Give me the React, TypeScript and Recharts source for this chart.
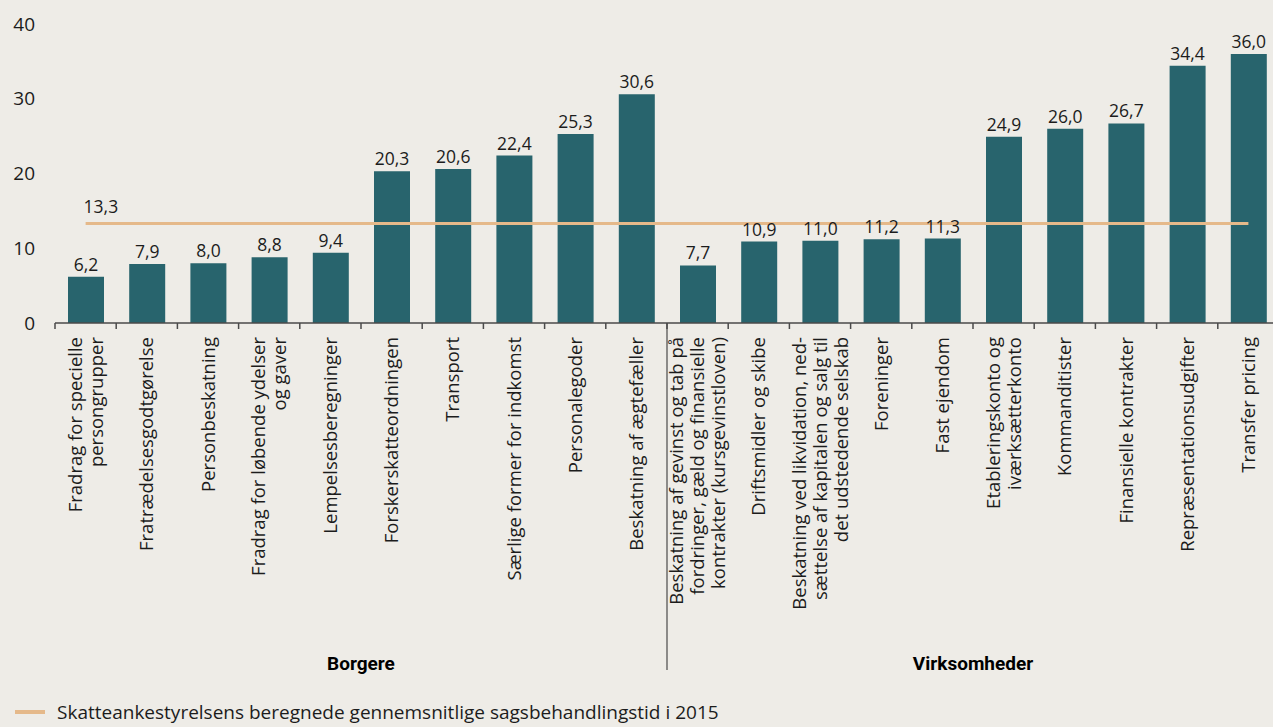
import React from 'react'
import { BarChart, Bar, XAxis, YAxis, ReferenceLine, LabelList } from 'recharts'

const categories = [
  'Fradrag for specielle|persongrupper',
  'Fratrædelsesgodtgørelse',
  'Personbeskatning',
  'Fradrag for løbende ydelser|og gaver',
  'Lempelsesberegninger',
  'Forskerskatteordningen',
  'Transport',
  'Særlige former for indkomst',
  'Personalegoder',
  'Beskatning af ægtefæller',
  'Beskatning af gevinst og tab på|fordringer, gæld og finansielle|kontrakter (kursgevinstloven)',
  'Driftsmidler og skibe',
  'Beskatning ved likvidation, ned-|sættelse af kapitalen og salg til|det udstedende selskab',
  'Foreninger',
  'Fast ejendom',
  'Etableringskonto og|iværksætterkonto',
  'Kommanditister',
  'Finansielle kontrakter',
  'Repræsentationsudgifter',
  'Transfer pricing',
]

const values = [6.2, 7.9, 8.0, 8.8, 9.4, 20.3, 20.6, 22.4, 25.3, 30.6, 7.7, 10.9, 11.0, 11.2, 11.3, 24.9, 26.0, 26.7, 34.4, 36.0]

const average = 13.3
const averageLabel = 'Skatteankestyrelsens beregnede gennemsnitlige sagsbehandlingstid i 2015'

const groups = [
  { name: 'Borgere', from: 0, to: 9 },
  { name: 'Virksomheder', from: 10, to: 19 },
]

const yTicks = [0, 10, 20, 30, 40]

const BG = '#eeece7'
const BAR = '#28646d'
const AVG = '#e5b98a'
const TEXT = '#1c1c1c'
const AXIS = '#4a4a4a'
const FONT = '"Open Sans", "Noto Sans", sans-serif'

const data = categories.map((name, i) => ({ name, value: values[i] }))

const fmt = (v: number) => v.toFixed(1).replace('.', ',')

function CategoryTick(props: any) {
  const { x, y, payload, index } = props
  const half = payload?.offset ?? 30.6
  const lines = String(payload.value).split('|')
  const lh = 21
  const fs = 18.5
  const left = x - half
  const groupLabel = groups.find(g => Math.round((g.from + g.to + 1) / 2) === index)
  const isSeparator = groups.some((g, gi) => gi > 0 && g.from === index)
  return (
    <g>
      <line x1={left} x2={left} y1={y} y2={y + 6} stroke={AXIS} strokeWidth={1.5} />
      {isSeparator && <line x1={left} x2={left} y1={y} y2={y + 347} stroke={AXIS} strokeWidth={1.2} />}
      <g transform={`translate(${x},${y + 14}) rotate(-90)`}>
        {lines.map((ln, i) => (
          <text
            key={i}
            x={0}
            y={(i - (lines.length - 1) / 2) * lh + fs * 0.36}
            textAnchor="end"
            fontSize={fs}
            fontFamily={FONT}
            fill={TEXT}
          >
            {ln}
          </text>
        ))}
      </g>
      {groupLabel && (
        <text x={left} y={y + 347} textAnchor="middle" fontSize={19} fontWeight="bold" fontFamily="Roboto, sans-serif" fill="#000">
          {groupLabel.name}
        </text>
      )}
    </g>
  )
}

function AvgLabel(props: any) {
  const vb = props.viewBox || {}
  return (
    <text x={vb.x - 2} y={vb.y - 11} fontSize={17.5} fontFamily={FONT} fill={TEXT}>
      {fmt(average)}
    </text>
  )
}

export default function App() {
  return (
    <div style={{ position: 'absolute', left: 0, top: 0, width: 1273, height: 727, background: BG, overflow: 'hidden' }}>
      <BarChart
        width={1290}
        height={727}
        data={data}
        margin={{ top: 24, right: 11, left: 0, bottom: 0 }}
        barSize={36}
      >
        <YAxis
          type="number"
          domain={[0, 40]}
          ticks={yTicks}
          width={55}
          axisLine={false}
          tickLine={false}
          tickSize={0}
          tickMargin={20}
          tick={{ fontSize: 19, fill: TEXT, fontFamily: FONT }}
        />
        <XAxis
          dataKey="name"
          type="category"
          interval={0}
          height={404}
          axisLine={{ stroke: AXIS, strokeWidth: 1.5 }}
          tickLine={false}
          tickSize={0}
          tickMargin={0}
          tick={<CategoryTick />}
        />
        <Bar dataKey="value" fill={BAR} isAnimationActive={false}>
          <LabelList
            dataKey="value"
            position="top"
            offset={6}
            formatter={(v: any) => fmt(Number(v))}
            style={{ fontSize: 17.5, fill: TEXT, fontFamily: FONT }}
          />
        </Bar>
        <ReferenceLine
          segment={[
            { x: categories[0], y: average },
            { x: categories[categories.length - 1], y: average },
          ]}
          stroke={AVG}
          strokeWidth={3}
          label={<AvgLabel />}
        />
      </BarChart>
      <div
        style={{
          position: 'absolute',
          left: 15,
          top: 700,
          display: 'flex',
          alignItems: 'center',
          fontFamily: FONT,
          fontSize: 19,
          lineHeight: '24px',
          color: TEXT,
          whiteSpace: 'nowrap',
        }}
      >
        <span style={{ display: 'inline-block', width: 30, height: 4, background: AVG, marginRight: 12 }} />
        <span>{averageLabel}</span>
      </div>
    </div>
  )
}
